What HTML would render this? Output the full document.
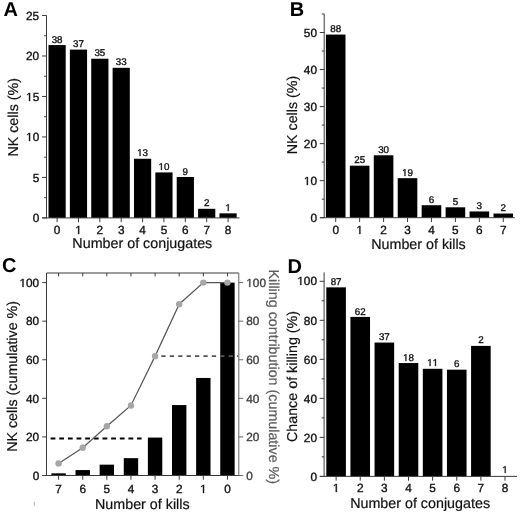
<!DOCTYPE html>
<html><head><meta charset="utf-8"><style>
html,body{margin:0;padding:0;background:#fff;}
svg{display:block;font-family:"Liberation Sans", sans-serif;will-change:transform;text-rendering:geometricPrecision;}
</style></head><body>
<svg width="520" height="512" viewBox="0 0 520 512">
<rect width="520" height="512" fill="#fff"/>
<rect x="48.50" y="45.06" width="17.20" height="172.84" fill="#000"/>
<text x="51.65" y="43" font-size="9.8" fill="#111" stroke="#111" stroke-width="0.35">38</text>
<rect x="69.87" y="49.61" width="17.20" height="168.29" fill="#000"/>
<text x="73.02" y="47" font-size="9.8" fill="#111" stroke="#111" stroke-width="0.35">37</text>
<rect x="91.24" y="58.71" width="17.20" height="159.19" fill="#000"/>
<text x="94.39" y="56" font-size="9.8" fill="#111" stroke="#111" stroke-width="0.35">35</text>
<rect x="112.61" y="67.81" width="17.20" height="150.09" fill="#000"/>
<text x="115.76" y="65" font-size="9.8" fill="#111" stroke="#111" stroke-width="0.35">33</text>
<rect x="133.98" y="158.77" width="17.20" height="59.13" fill="#000"/>
<path d="M139.59,156.00 L139.59,150.08 L138.07,151.17 L138.07,150.35 L139.67,149.26 L140.46,149.26 L140.46,156.00Z" fill="#111" stroke="#111" stroke-width="0.35"/>
<text x="142.58" y="156" font-size="9.8" fill="#111" stroke="#111" stroke-width="0.35">3</text>
<rect x="155.35" y="172.42" width="17.20" height="45.48" fill="#000"/>
<path d="M160.96,170.00 L160.96,164.08 L159.44,165.17 L159.44,164.35 L161.04,163.26 L161.83,163.26 L161.83,170.00Z" fill="#111" stroke="#111" stroke-width="0.35"/>
<text x="163.95" y="170" font-size="9.8" fill="#111" stroke="#111" stroke-width="0.35">0</text>
<rect x="176.72" y="176.97" width="17.20" height="40.93" fill="#000"/>
<text x="182.59" y="175" font-size="9.8" fill="#111" stroke="#111" stroke-width="0.35">9</text>
<rect x="198.09" y="208.80" width="17.20" height="9.10" fill="#000"/>
<text x="203.96" y="206" font-size="9.8" fill="#111" stroke="#111" stroke-width="0.35">2</text>
<rect x="219.46" y="213.35" width="17.20" height="4.55" fill="#000"/>
<path d="M227.80,211.00 L227.80,205.08 L226.28,206.17 L226.28,205.35 L227.87,204.26 L228.67,204.26 L228.67,211.00Z" fill="#111" stroke="#111" stroke-width="0.35"/>
<line x1="46.50" y1="15.50" x2="46.50" y2="218.40" stroke="#3a3a3a" stroke-width="1" />
<line x1="42.10" y1="217.90" x2="46.50" y2="217.90" stroke="#3a3a3a" stroke-width="1" />
<text x="32.64" y="222" font-size="11.8" fill="#111" stroke="#111" stroke-width="0.35">0</text>
<line x1="42.10" y1="177.42" x2="46.50" y2="177.42" stroke="#3a3a3a" stroke-width="1" />
<text x="32.64" y="182" font-size="11.8" fill="#111" stroke="#111" stroke-width="0.35">5</text>
<line x1="42.10" y1="136.94" x2="46.50" y2="136.94" stroke="#3a3a3a" stroke-width="1" />
<path d="M29.04,141.00 L29.04,133.87 L27.21,135.18 L27.21,134.20 L29.13,132.88 L30.08,132.88 L30.08,141.00Z" fill="#111" stroke="#111" stroke-width="0.35"/>
<text x="32.64" y="141" font-size="11.8" fill="#111" stroke="#111" stroke-width="0.35">0</text>
<line x1="42.10" y1="96.46" x2="46.50" y2="96.46" stroke="#3a3a3a" stroke-width="1" />
<path d="M29.04,101.00 L29.04,93.87 L27.21,95.18 L27.21,94.20 L29.13,92.88 L30.08,92.88 L30.08,101.00Z" fill="#111" stroke="#111" stroke-width="0.35"/>
<text x="32.64" y="101" font-size="11.8" fill="#111" stroke="#111" stroke-width="0.35">5</text>
<line x1="42.10" y1="55.98" x2="46.50" y2="55.98" stroke="#3a3a3a" stroke-width="1" />
<text x="26.07" y="60" font-size="11.8" fill="#111" stroke="#111" stroke-width="0.35">20</text>
<line x1="42.10" y1="15.50" x2="46.50" y2="15.50" stroke="#3a3a3a" stroke-width="1" />
<text x="26.07" y="20" font-size="11.8" fill="#111" stroke="#111" stroke-width="0.35">25</text>
<line x1="44.10" y1="197.66" x2="46.50" y2="197.66" stroke="#3a3a3a" stroke-width="1" />
<line x1="44.10" y1="157.18" x2="46.50" y2="157.18" stroke="#3a3a3a" stroke-width="1" />
<line x1="44.10" y1="116.70" x2="46.50" y2="116.70" stroke="#3a3a3a" stroke-width="1" />
<line x1="44.10" y1="76.22" x2="46.50" y2="76.22" stroke="#3a3a3a" stroke-width="1" />
<line x1="44.10" y1="35.74" x2="46.50" y2="35.74" stroke="#3a3a3a" stroke-width="1" />
<line x1="42.30" y1="217.90" x2="239.60" y2="217.90" stroke="#3a3a3a" stroke-width="1" />
<line x1="57.10" y1="217.90" x2="57.10" y2="222.20" stroke="#3a3a3a" stroke-width="1" />
<text x="53.82" y="234" font-size="11.8" fill="#111" stroke="#111" stroke-width="0.35">0</text>
<line x1="78.47" y1="217.90" x2="78.47" y2="222.20" stroke="#3a3a3a" stroke-width="1" />
<path d="M78.16,234.00 L78.16,226.87 L76.32,228.18 L76.32,227.20 L78.24,225.88 L79.20,225.88 L79.20,234.00Z" fill="#111" stroke="#111" stroke-width="0.35"/>
<line x1="99.84" y1="217.90" x2="99.84" y2="222.20" stroke="#3a3a3a" stroke-width="1" />
<text x="96.56" y="234" font-size="11.8" fill="#111" stroke="#111" stroke-width="0.35">2</text>
<line x1="121.21" y1="217.90" x2="121.21" y2="222.20" stroke="#3a3a3a" stroke-width="1" />
<text x="117.93" y="234" font-size="11.8" fill="#111" stroke="#111" stroke-width="0.35">3</text>
<line x1="142.58" y1="217.90" x2="142.58" y2="222.20" stroke="#3a3a3a" stroke-width="1" />
<text x="139.30" y="234" font-size="11.8" fill="#111" stroke="#111" stroke-width="0.35">4</text>
<line x1="163.95" y1="217.90" x2="163.95" y2="222.20" stroke="#3a3a3a" stroke-width="1" />
<text x="160.67" y="234" font-size="11.8" fill="#111" stroke="#111" stroke-width="0.35">5</text>
<line x1="185.32" y1="217.90" x2="185.32" y2="222.20" stroke="#3a3a3a" stroke-width="1" />
<text x="182.04" y="234" font-size="11.8" fill="#111" stroke="#111" stroke-width="0.35">6</text>
<line x1="206.69" y1="217.90" x2="206.69" y2="222.20" stroke="#3a3a3a" stroke-width="1" />
<text x="203.41" y="234" font-size="11.8" fill="#111" stroke="#111" stroke-width="0.35">7</text>
<line x1="228.06" y1="217.90" x2="228.06" y2="222.20" stroke="#3a3a3a" stroke-width="1" />
<text x="224.78" y="234" font-size="11.8" fill="#111" stroke="#111" stroke-width="0.35">8</text>
<text x="142.30" y="248.20" font-size="14.3" text-anchor="middle" fill="#111" font-weight="normal" stroke="#111" stroke-width="0.2">Number of conjugates</text>
<text x="18.00" y="117.30" font-size="14.3" text-anchor="middle" fill="#111" font-weight="normal" stroke="#111" stroke-width="0.2" transform="rotate(-90 18.00 117.30)">NK cells (%)</text>
<text x="3.50" y="15.60" font-size="20" text-anchor="start" fill="#000" font-weight="bold">A</text>
<rect x="325.90" y="34.58" width="19.60" height="183.12" fill="#000"/>
<text x="330.25" y="32" font-size="9.8" fill="#111" stroke="#111" stroke-width="0.35">88</text>
<rect x="349.84" y="165.68" width="19.60" height="52.02" fill="#000"/>
<text x="354.19" y="163" font-size="9.8" fill="#111" stroke="#111" stroke-width="0.35">25</text>
<rect x="373.78" y="155.27" width="19.60" height="62.43" fill="#000"/>
<text x="378.13" y="153" font-size="9.8" fill="#111" stroke="#111" stroke-width="0.35">30</text>
<rect x="397.72" y="178.16" width="19.60" height="39.54" fill="#000"/>
<path d="M404.53,176.00 L404.53,170.08 L403.01,171.17 L403.01,170.35 L404.61,169.26 L405.40,169.26 L405.40,176.00Z" fill="#111" stroke="#111" stroke-width="0.35"/>
<text x="407.52" y="176" font-size="9.8" fill="#111" stroke="#111" stroke-width="0.35">9</text>
<rect x="421.66" y="205.21" width="19.60" height="12.49" fill="#000"/>
<text x="428.73" y="203" font-size="9.8" fill="#111" stroke="#111" stroke-width="0.35">6</text>
<rect x="445.60" y="207.30" width="19.60" height="10.40" fill="#000"/>
<text x="452.67" y="205" font-size="9.8" fill="#111" stroke="#111" stroke-width="0.35">5</text>
<rect x="469.54" y="211.46" width="19.60" height="6.24" fill="#000"/>
<text x="476.61" y="209" font-size="9.8" fill="#111" stroke="#111" stroke-width="0.35">3</text>
<rect x="493.48" y="213.54" width="19.60" height="4.16" fill="#000"/>
<text x="500.55" y="211" font-size="9.8" fill="#111" stroke="#111" stroke-width="0.35">2</text>
<line x1="324.20" y1="13.98" x2="324.20" y2="218.20" stroke="#3a3a3a" stroke-width="1" />
<line x1="319.80" y1="217.70" x2="324.20" y2="217.70" stroke="#3a3a3a" stroke-width="1" />
<text x="310.44" y="222" font-size="11.8" fill="#111" stroke="#111" stroke-width="0.35">0</text>
<line x1="319.80" y1="180.66" x2="324.20" y2="180.66" stroke="#3a3a3a" stroke-width="1" />
<path d="M306.84,185.00 L306.84,177.87 L305.01,179.18 L305.01,178.20 L306.93,176.88 L307.88,176.88 L307.88,185.00Z" fill="#111" stroke="#111" stroke-width="0.35"/>
<text x="310.44" y="185" font-size="11.8" fill="#111" stroke="#111" stroke-width="0.35">0</text>
<line x1="319.80" y1="143.62" x2="324.20" y2="143.62" stroke="#3a3a3a" stroke-width="1" />
<text x="303.87" y="148" font-size="11.8" fill="#111" stroke="#111" stroke-width="0.35">20</text>
<line x1="319.80" y1="106.58" x2="324.20" y2="106.58" stroke="#3a3a3a" stroke-width="1" />
<text x="303.87" y="111" font-size="11.8" fill="#111" stroke="#111" stroke-width="0.35">30</text>
<line x1="319.80" y1="69.54" x2="324.20" y2="69.54" stroke="#3a3a3a" stroke-width="1" />
<text x="303.87" y="74" font-size="11.8" fill="#111" stroke="#111" stroke-width="0.35">40</text>
<line x1="319.80" y1="32.50" x2="324.20" y2="32.50" stroke="#3a3a3a" stroke-width="1" />
<text x="303.87" y="37" font-size="11.8" fill="#111" stroke="#111" stroke-width="0.35">50</text>
<line x1="321.80" y1="199.18" x2="324.20" y2="199.18" stroke="#3a3a3a" stroke-width="1" />
<line x1="321.80" y1="162.14" x2="324.20" y2="162.14" stroke="#3a3a3a" stroke-width="1" />
<line x1="321.80" y1="125.10" x2="324.20" y2="125.10" stroke="#3a3a3a" stroke-width="1" />
<line x1="321.80" y1="88.06" x2="324.20" y2="88.06" stroke="#3a3a3a" stroke-width="1" />
<line x1="321.80" y1="51.02" x2="324.20" y2="51.02" stroke="#3a3a3a" stroke-width="1" />
<line x1="321.80" y1="13.98" x2="324.20" y2="13.98" stroke="#3a3a3a" stroke-width="1" />
<line x1="320.00" y1="217.70" x2="514.70" y2="217.70" stroke="#3a3a3a" stroke-width="1" />
<line x1="335.70" y1="217.70" x2="335.70" y2="222.00" stroke="#3a3a3a" stroke-width="1" />
<text x="332.42" y="234" font-size="11.8" fill="#111" stroke="#111" stroke-width="0.35">0</text>
<line x1="359.64" y1="217.70" x2="359.64" y2="222.00" stroke="#3a3a3a" stroke-width="1" />
<path d="M359.33,234.00 L359.33,226.87 L357.49,228.18 L357.49,227.20 L359.41,225.88 L360.37,225.88 L360.37,234.00Z" fill="#111" stroke="#111" stroke-width="0.35"/>
<line x1="383.58" y1="217.70" x2="383.58" y2="222.00" stroke="#3a3a3a" stroke-width="1" />
<text x="380.30" y="234" font-size="11.8" fill="#111" stroke="#111" stroke-width="0.35">2</text>
<line x1="407.52" y1="217.70" x2="407.52" y2="222.00" stroke="#3a3a3a" stroke-width="1" />
<text x="404.24" y="234" font-size="11.8" fill="#111" stroke="#111" stroke-width="0.35">3</text>
<line x1="431.46" y1="217.70" x2="431.46" y2="222.00" stroke="#3a3a3a" stroke-width="1" />
<text x="428.18" y="234" font-size="11.8" fill="#111" stroke="#111" stroke-width="0.35">4</text>
<line x1="455.40" y1="217.70" x2="455.40" y2="222.00" stroke="#3a3a3a" stroke-width="1" />
<text x="452.12" y="234" font-size="11.8" fill="#111" stroke="#111" stroke-width="0.35">5</text>
<line x1="479.34" y1="217.70" x2="479.34" y2="222.00" stroke="#3a3a3a" stroke-width="1" />
<text x="476.06" y="234" font-size="11.8" fill="#111" stroke="#111" stroke-width="0.35">6</text>
<line x1="503.28" y1="217.70" x2="503.28" y2="222.00" stroke="#3a3a3a" stroke-width="1" />
<text x="500.00" y="234" font-size="11.8" fill="#111" stroke="#111" stroke-width="0.35">7</text>
<text x="418.50" y="248.60" font-size="14.3" text-anchor="middle" fill="#111" font-weight="normal" stroke="#111" stroke-width="0.2">Number of kills</text>
<text x="296.80" y="115.00" font-size="14.3" text-anchor="middle" fill="#111" font-weight="normal" stroke="#111" stroke-width="0.2" transform="rotate(-90 296.80 115.00)">NK cells (%)</text>
<text x="289.70" y="15.50" font-size="20" text-anchor="start" fill="#000" font-weight="bold">B</text>
<rect x="326.30" y="287.35" width="19.60" height="189.05" fill="#000"/>
<text x="330.65" y="285" font-size="9.8" fill="#111" stroke="#111" stroke-width="0.35">87</text>
<rect x="350.43" y="316.91" width="19.60" height="159.49" fill="#000"/>
<text x="354.78" y="315" font-size="9.8" fill="#111" stroke="#111" stroke-width="0.35">62</text>
<rect x="374.56" y="342.56" width="19.60" height="133.84" fill="#000"/>
<text x="378.91" y="340" font-size="9.8" fill="#111" stroke="#111" stroke-width="0.35">37</text>
<rect x="398.69" y="363.05" width="19.60" height="113.35" fill="#000"/>
<path d="M405.50,361.00 L405.50,355.08 L403.98,356.17 L403.98,355.35 L405.58,354.26 L406.37,354.26 L406.37,361.00Z" fill="#111" stroke="#111" stroke-width="0.35"/>
<text x="408.49" y="361" font-size="9.8" fill="#111" stroke="#111" stroke-width="0.35">8</text>
<rect x="422.82" y="368.80" width="19.60" height="107.60" fill="#000"/>
<path d="M429.63,366.00 L429.63,360.08 L428.11,361.17 L428.11,360.35 L429.71,359.26 L430.50,359.26 L430.50,366.00Z" fill="#111" stroke="#111" stroke-width="0.35"/>
<path d="M435.08,366.00 L435.08,360.08 L433.56,361.17 L433.56,360.35 L435.16,359.26 L435.95,359.26 L435.95,366.00Z" fill="#111" stroke="#111" stroke-width="0.35"/>
<rect x="446.95" y="369.68" width="19.60" height="106.72" fill="#000"/>
<text x="454.02" y="367" font-size="9.8" fill="#111" stroke="#111" stroke-width="0.35">6</text>
<rect x="471.08" y="345.88" width="19.60" height="130.52" fill="#000"/>
<text x="478.15" y="343" font-size="9.8" fill="#111" stroke="#111" stroke-width="0.35">2</text>
<path d="M504.75,473.00 L504.75,467.08 L503.23,468.17 L503.23,467.35 L504.82,466.26 L505.62,466.26 L505.62,473.00Z" fill="#111" stroke="#111" stroke-width="0.35"/>
<line x1="324.10" y1="272.40" x2="324.10" y2="476.90" stroke="#3a3a3a" stroke-width="1" />
<line x1="319.70" y1="476.40" x2="324.10" y2="476.40" stroke="#3a3a3a" stroke-width="1" />
<text x="310.44" y="481" font-size="11.8" fill="#111" stroke="#111" stroke-width="0.35">0</text>
<line x1="319.70" y1="437.38" x2="324.10" y2="437.38" stroke="#3a3a3a" stroke-width="1" />
<text x="303.87" y="442" font-size="11.8" fill="#111" stroke="#111" stroke-width="0.35">20</text>
<line x1="319.70" y1="398.36" x2="324.10" y2="398.36" stroke="#3a3a3a" stroke-width="1" />
<text x="303.87" y="403" font-size="11.8" fill="#111" stroke="#111" stroke-width="0.35">40</text>
<line x1="319.70" y1="359.34" x2="324.10" y2="359.34" stroke="#3a3a3a" stroke-width="1" />
<text x="303.87" y="364" font-size="11.8" fill="#111" stroke="#111" stroke-width="0.35">60</text>
<line x1="319.70" y1="320.32" x2="324.10" y2="320.32" stroke="#3a3a3a" stroke-width="1" />
<text x="303.87" y="325" font-size="11.8" fill="#111" stroke="#111" stroke-width="0.35">80</text>
<line x1="319.70" y1="281.30" x2="324.10" y2="281.30" stroke="#3a3a3a" stroke-width="1" />
<path d="M300.28,285.00 L300.28,277.87 L298.45,279.18 L298.45,278.20 L300.37,276.88 L301.32,276.88 L301.32,285.00Z" fill="#111" stroke="#111" stroke-width="0.35"/>
<text x="303.87" y="285" font-size="11.8" fill="#111" stroke="#111" stroke-width="0.35">00</text>
<line x1="321.70" y1="456.89" x2="324.10" y2="456.89" stroke="#3a3a3a" stroke-width="1" />
<line x1="321.70" y1="417.87" x2="324.10" y2="417.87" stroke="#3a3a3a" stroke-width="1" />
<line x1="321.70" y1="378.85" x2="324.10" y2="378.85" stroke="#3a3a3a" stroke-width="1" />
<line x1="321.70" y1="339.83" x2="324.10" y2="339.83" stroke="#3a3a3a" stroke-width="1" />
<line x1="321.70" y1="300.81" x2="324.10" y2="300.81" stroke="#3a3a3a" stroke-width="1" />
<line x1="320.00" y1="476.40" x2="517.00" y2="476.40" stroke="#3a3a3a" stroke-width="1" />
<line x1="336.10" y1="476.40" x2="336.10" y2="480.70" stroke="#3a3a3a" stroke-width="1" />
<path d="M335.79,492.00 L335.79,484.87 L333.95,486.18 L333.95,485.20 L335.87,483.88 L336.83,483.88 L336.83,492.00Z" fill="#111" stroke="#111" stroke-width="0.35"/>
<line x1="360.23" y1="476.40" x2="360.23" y2="480.70" stroke="#3a3a3a" stroke-width="1" />
<text x="356.95" y="492" font-size="11.8" fill="#111" stroke="#111" stroke-width="0.35">2</text>
<line x1="384.36" y1="476.40" x2="384.36" y2="480.70" stroke="#3a3a3a" stroke-width="1" />
<text x="381.08" y="492" font-size="11.8" fill="#111" stroke="#111" stroke-width="0.35">3</text>
<line x1="408.49" y1="476.40" x2="408.49" y2="480.70" stroke="#3a3a3a" stroke-width="1" />
<text x="405.21" y="492" font-size="11.8" fill="#111" stroke="#111" stroke-width="0.35">4</text>
<line x1="432.62" y1="476.40" x2="432.62" y2="480.70" stroke="#3a3a3a" stroke-width="1" />
<text x="429.34" y="492" font-size="11.8" fill="#111" stroke="#111" stroke-width="0.35">5</text>
<line x1="456.75" y1="476.40" x2="456.75" y2="480.70" stroke="#3a3a3a" stroke-width="1" />
<text x="453.47" y="492" font-size="11.8" fill="#111" stroke="#111" stroke-width="0.35">6</text>
<line x1="480.88" y1="476.40" x2="480.88" y2="480.70" stroke="#3a3a3a" stroke-width="1" />
<text x="477.60" y="492" font-size="11.8" fill="#111" stroke="#111" stroke-width="0.35">7</text>
<line x1="505.01" y1="476.40" x2="505.01" y2="480.70" stroke="#3a3a3a" stroke-width="1" />
<text x="501.73" y="492" font-size="11.8" fill="#111" stroke="#111" stroke-width="0.35">8</text>
<text x="420.10" y="507.50" font-size="14.3" text-anchor="middle" fill="#111" font-weight="normal" stroke="#111" stroke-width="0.2">Number of conjugates</text>
<text x="296.80" y="376.50" font-size="14.3" text-anchor="middle" fill="#111" font-weight="normal" stroke="#111" stroke-width="0.2" transform="rotate(-90 296.80 376.50)">Chance of killing (%)</text>
<text x="287.60" y="272.90" font-size="20" text-anchor="start" fill="#000" font-weight="bold">D</text>
<rect x="51.40" y="473.33" width="14.40" height="2.17" fill="#000"/>
<rect x="75.52" y="470.08" width="14.40" height="5.42" fill="#000"/>
<rect x="99.64" y="464.66" width="14.40" height="10.84" fill="#000"/>
<rect x="123.76" y="458.16" width="14.40" height="17.34" fill="#000"/>
<rect x="147.88" y="437.57" width="14.40" height="37.93" fill="#000"/>
<rect x="172.00" y="405.06" width="14.40" height="70.44" fill="#000"/>
<rect x="196.12" y="377.97" width="14.40" height="97.53" fill="#000"/>
<rect x="220.24" y="282.60" width="14.40" height="192.90" fill="#000"/>
<line x1="50.60" y1="438.50" x2="141.60" y2="438.50" stroke="#000" stroke-width="1.8" stroke-dasharray="4.8 3.85"/>
<line x1="161.30" y1="356.13" x2="238.30" y2="356.13" stroke="#555" stroke-width="1.8" stroke-dasharray="4.3 4.12"/>
<polyline points="58.60,463.39 82.72,447.82 106.84,426.19 130.96,405.43 155.08,356.13 179.20,304.23 203.32,282.60 227.44,282.60" fill="none" stroke="#555" stroke-width="1.2"/>
<circle cx="58.60" cy="463.39" r="3.2" fill="#a6a6a6"/>
<circle cx="82.72" cy="447.82" r="3.2" fill="#a6a6a6"/>
<circle cx="106.84" cy="426.19" r="3.2" fill="#a6a6a6"/>
<circle cx="130.96" cy="405.43" r="3.2" fill="#a6a6a6"/>
<circle cx="155.08" cy="356.13" r="3.2" fill="#a6a6a6"/>
<circle cx="179.20" cy="304.23" r="3.2" fill="#a6a6a6"/>
<circle cx="203.32" cy="282.60" r="3.2" fill="#a6a6a6"/>
<circle cx="227.44" cy="282.60" r="3.2" fill="#a6a6a6"/>
<line x1="46.50" y1="273.00" x2="238.80" y2="273.00" stroke="#3a3a3a" stroke-width="1" />
<line x1="46.50" y1="273.00" x2="46.50" y2="476.00" stroke="#3a3a3a" stroke-width="1" />
<line x1="42.30" y1="475.50" x2="238.80" y2="475.50" stroke="#3a3a3a" stroke-width="1" />
<line x1="238.80" y1="273.00" x2="238.80" y2="476.00" stroke="#666" stroke-width="1" />
<line x1="42.30" y1="475.50" x2="46.50" y2="475.50" stroke="#3a3a3a" stroke-width="1" />
<text x="32.64" y="480" font-size="11.8" fill="#111" stroke="#111" stroke-width="0.35">0</text>
<line x1="238.80" y1="475.50" x2="243.20" y2="475.50" stroke="#666" stroke-width="1" />
<text x="246.30" y="480" font-size="11.8" fill="#3d3d3d" stroke="#3d3d3d" stroke-width="0.35">0</text>
<line x1="42.30" y1="436.92" x2="46.50" y2="436.92" stroke="#3a3a3a" stroke-width="1" />
<text x="26.07" y="441" font-size="11.8" fill="#111" stroke="#111" stroke-width="0.35">20</text>
<line x1="238.80" y1="436.92" x2="243.20" y2="436.92" stroke="#666" stroke-width="1" />
<text x="246.30" y="441" font-size="11.8" fill="#3d3d3d" stroke="#3d3d3d" stroke-width="0.35">20</text>
<line x1="42.30" y1="398.34" x2="46.50" y2="398.34" stroke="#3a3a3a" stroke-width="1" />
<text x="26.07" y="403" font-size="11.8" fill="#111" stroke="#111" stroke-width="0.35">40</text>
<line x1="238.80" y1="398.34" x2="243.20" y2="398.34" stroke="#666" stroke-width="1" />
<text x="246.30" y="403" font-size="11.8" fill="#3d3d3d" stroke="#3d3d3d" stroke-width="0.35">40</text>
<line x1="42.30" y1="359.76" x2="46.50" y2="359.76" stroke="#3a3a3a" stroke-width="1" />
<text x="26.07" y="364" font-size="11.8" fill="#111" stroke="#111" stroke-width="0.35">60</text>
<line x1="238.80" y1="359.76" x2="243.20" y2="359.76" stroke="#666" stroke-width="1" />
<text x="246.30" y="364" font-size="11.8" fill="#3d3d3d" stroke="#3d3d3d" stroke-width="0.35">60</text>
<line x1="42.30" y1="321.18" x2="46.50" y2="321.18" stroke="#3a3a3a" stroke-width="1" />
<text x="26.07" y="325" font-size="11.8" fill="#111" stroke="#111" stroke-width="0.35">80</text>
<line x1="238.80" y1="321.18" x2="243.20" y2="321.18" stroke="#666" stroke-width="1" />
<text x="246.30" y="325" font-size="11.8" fill="#3d3d3d" stroke="#3d3d3d" stroke-width="0.35">80</text>
<line x1="42.30" y1="282.60" x2="46.50" y2="282.60" stroke="#3a3a3a" stroke-width="1" />
<path d="M22.48,287.00 L22.48,279.87 L20.65,281.18 L20.65,280.20 L22.57,278.88 L23.52,278.88 L23.52,287.00Z" fill="#111" stroke="#111" stroke-width="0.35"/>
<text x="26.07" y="287" font-size="11.8" fill="#111" stroke="#111" stroke-width="0.35">00</text>
<line x1="238.80" y1="282.60" x2="243.20" y2="282.60" stroke="#666" stroke-width="1" />
<path d="M249.27,287.00 L249.27,279.87 L247.44,281.18 L247.44,280.20 L249.35,278.88 L250.31,278.88 L250.31,287.00Z" fill="#3d3d3d" stroke="#3d3d3d" stroke-width="0.35"/>
<text x="252.86" y="287" font-size="11.8" fill="#3d3d3d" stroke="#3d3d3d" stroke-width="0.35">00</text>
<line x1="58.60" y1="475.50" x2="58.60" y2="479.70" stroke="#3a3a3a" stroke-width="1" />
<line x1="58.60" y1="273.00" x2="58.60" y2="276.40" stroke="#3a3a3a" stroke-width="1" />
<text x="55.32" y="493" font-size="11.8" fill="#111" stroke="#111" stroke-width="0.35">7</text>
<line x1="82.72" y1="475.50" x2="82.72" y2="479.70" stroke="#3a3a3a" stroke-width="1" />
<line x1="82.72" y1="273.00" x2="82.72" y2="276.40" stroke="#3a3a3a" stroke-width="1" />
<text x="79.44" y="493" font-size="11.8" fill="#111" stroke="#111" stroke-width="0.35">6</text>
<line x1="106.84" y1="475.50" x2="106.84" y2="479.70" stroke="#3a3a3a" stroke-width="1" />
<line x1="106.84" y1="273.00" x2="106.84" y2="276.40" stroke="#3a3a3a" stroke-width="1" />
<text x="103.56" y="493" font-size="11.8" fill="#111" stroke="#111" stroke-width="0.35">5</text>
<line x1="130.96" y1="475.50" x2="130.96" y2="479.70" stroke="#3a3a3a" stroke-width="1" />
<line x1="130.96" y1="273.00" x2="130.96" y2="276.40" stroke="#3a3a3a" stroke-width="1" />
<text x="127.68" y="493" font-size="11.8" fill="#111" stroke="#111" stroke-width="0.35">4</text>
<line x1="155.08" y1="475.50" x2="155.08" y2="479.70" stroke="#3a3a3a" stroke-width="1" />
<line x1="155.08" y1="273.00" x2="155.08" y2="276.40" stroke="#3a3a3a" stroke-width="1" />
<text x="151.80" y="493" font-size="11.8" fill="#111" stroke="#111" stroke-width="0.35">3</text>
<line x1="179.20" y1="475.50" x2="179.20" y2="479.70" stroke="#3a3a3a" stroke-width="1" />
<line x1="179.20" y1="273.00" x2="179.20" y2="276.40" stroke="#3a3a3a" stroke-width="1" />
<text x="175.92" y="493" font-size="11.8" fill="#111" stroke="#111" stroke-width="0.35">2</text>
<line x1="203.32" y1="475.50" x2="203.32" y2="479.70" stroke="#3a3a3a" stroke-width="1" />
<line x1="203.32" y1="273.00" x2="203.32" y2="276.40" stroke="#3a3a3a" stroke-width="1" />
<path d="M203.01,493.00 L203.01,485.87 L201.17,487.18 L201.17,486.20 L203.09,484.88 L204.05,484.88 L204.05,493.00Z" fill="#111" stroke="#111" stroke-width="0.35"/>
<line x1="227.44" y1="475.50" x2="227.44" y2="479.70" stroke="#3a3a3a" stroke-width="1" />
<line x1="227.44" y1="273.00" x2="227.44" y2="276.40" stroke="#3a3a3a" stroke-width="1" />
<text x="224.16" y="493" font-size="11.8" fill="#111" stroke="#111" stroke-width="0.35">0</text>
<text x="142.30" y="509.00" font-size="14.3" text-anchor="middle" fill="#111" font-weight="normal" stroke="#111" stroke-width="0.2">Number of kills</text>
<text x="17.00" y="376.40" font-size="14.3" text-anchor="middle" fill="#111" font-weight="normal" stroke="#111" stroke-width="0.2" transform="rotate(-90 17.00 376.40)">NK cells (cumulative %)</text>
<text x="268.70" y="376.80" font-size="14.3" text-anchor="middle" fill="#5c5c5c" font-weight="normal" stroke="#5c5c5c" stroke-width="0.2" transform="rotate(90 268.70 376.80)">Killing contribution (cumulative %)</text>
<text x="2.00" y="272.00" font-size="20" text-anchor="start" fill="#000" font-weight="bold">C</text>
<line x1="34.30" y1="501.80" x2="34.30" y2="505.80" stroke="#b0b0b0" stroke-width="1" />
</svg>
</body></html>
